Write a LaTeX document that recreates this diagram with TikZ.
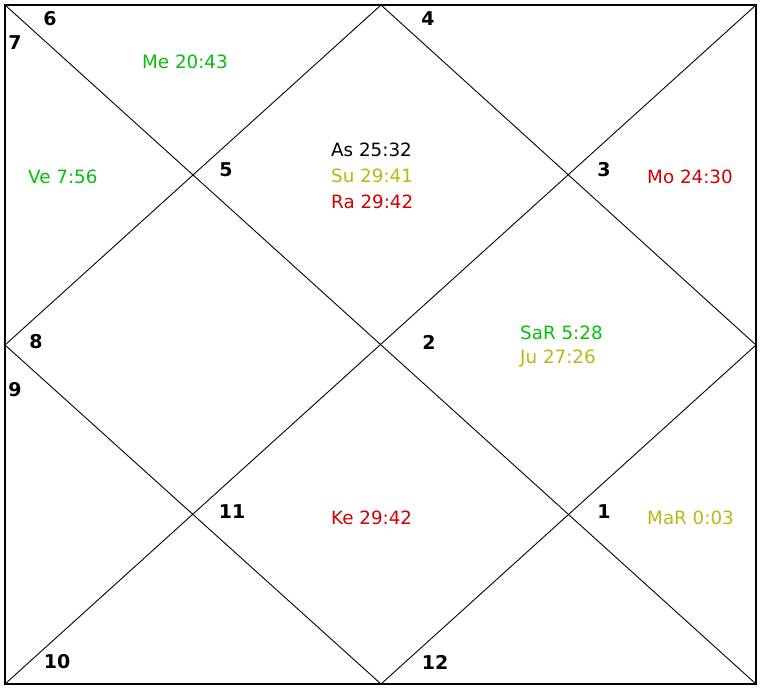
\documentclass[tikz,border=0pt]{standalone}
\usepackage{fontspec}
\setmainfont{DejaVu Sans}
\begin{document}
\begin{tikzpicture}[x=1pt,y=-1pt,
  num/.style={font=\fontsize{19}{21}\selectfont\bfseries, text=black, inner sep=0pt, anchor=center},
  pl/.style={font=\fontsize{18.3}{20}\selectfont, inner sep=0pt, anchor=west},
  frame/.style={draw=black, line width=1.5pt},
  thin/.style={draw=black, line width=0.9pt}]
\definecolor{pgreen}{RGB}{10,190,10}
\definecolor{polive}{RGB}{185,185,20}
\definecolor{pred}{RGB}{210,0,0}
\useasboundingbox (0,0) rectangle (760,688);
\fill[white] (0,0) rectangle (760,688);
% corners and midpoints
\coordinate (tl) at (5,5);
\coordinate (tr) at (756,5);
\coordinate (br) at (756,684);
\coordinate (bl) at (5,684);
\coordinate (tm) at (381,5);
\coordinate (rm) at (756,345);
\coordinate (bm) at (381,684);
\coordinate (lm) at (5,345);
\draw[thin] (tl) -- (br);
\draw[thin] (tr) -- (bl);
\draw[thin] (tm) -- (rm) -- (bm) -- (lm) -- cycle;
\draw[frame] (tl) rectangle (br);
% house numbers
\node[num] (h6) at (50,19) {6};
\node[num] (h7) at (15,43) {7};
\node[num] (h4) at (428,19) {4};
\node[num] (h5) at (226,170) {5};
\node[num] (h3) at (604,170) {3};
\node[num] (h8) at (36,342) {8};
\node[num] (h2) at (429,342) {2};
\node[num] (h9) at (15,390) {9};
\node[num] (h11) at (232,512) {11};
\node[num] (h1) at (604,512) {1};
\node[num] (h10) at (57,662) {10};
\node[num] (h12) at (435,662) {12};
% planets
\node[pl, text=pgreen] (me) at (142,62) {Me 20:43};
\node[pl, text=black] (as) at (331,150) {As 25:32};
\node[pl, text=polive] (su) at (331,176) {Su 29:41};
\node[pl, text=pred] (ra) at (331,202) {Ra 29:42};
\node[pl, text=pgreen] (ve) at (28,177) {Ve 7:56};
\node[pl, text=pred] (mo) at (647,177) {Mo 24:30};
\node[pl, text=pgreen] (sa) at (520,333) {SaR 5:28};
\node[pl, text=polive] (ju) at (520,359) {Ju 27:26};
\node[pl, text=pred] (ke) at (331,518) {Ke 29:42};
\node[pl, text=polive] (ma) at (647,518) {MaR 0:03};
\end{tikzpicture}
\end{document}
